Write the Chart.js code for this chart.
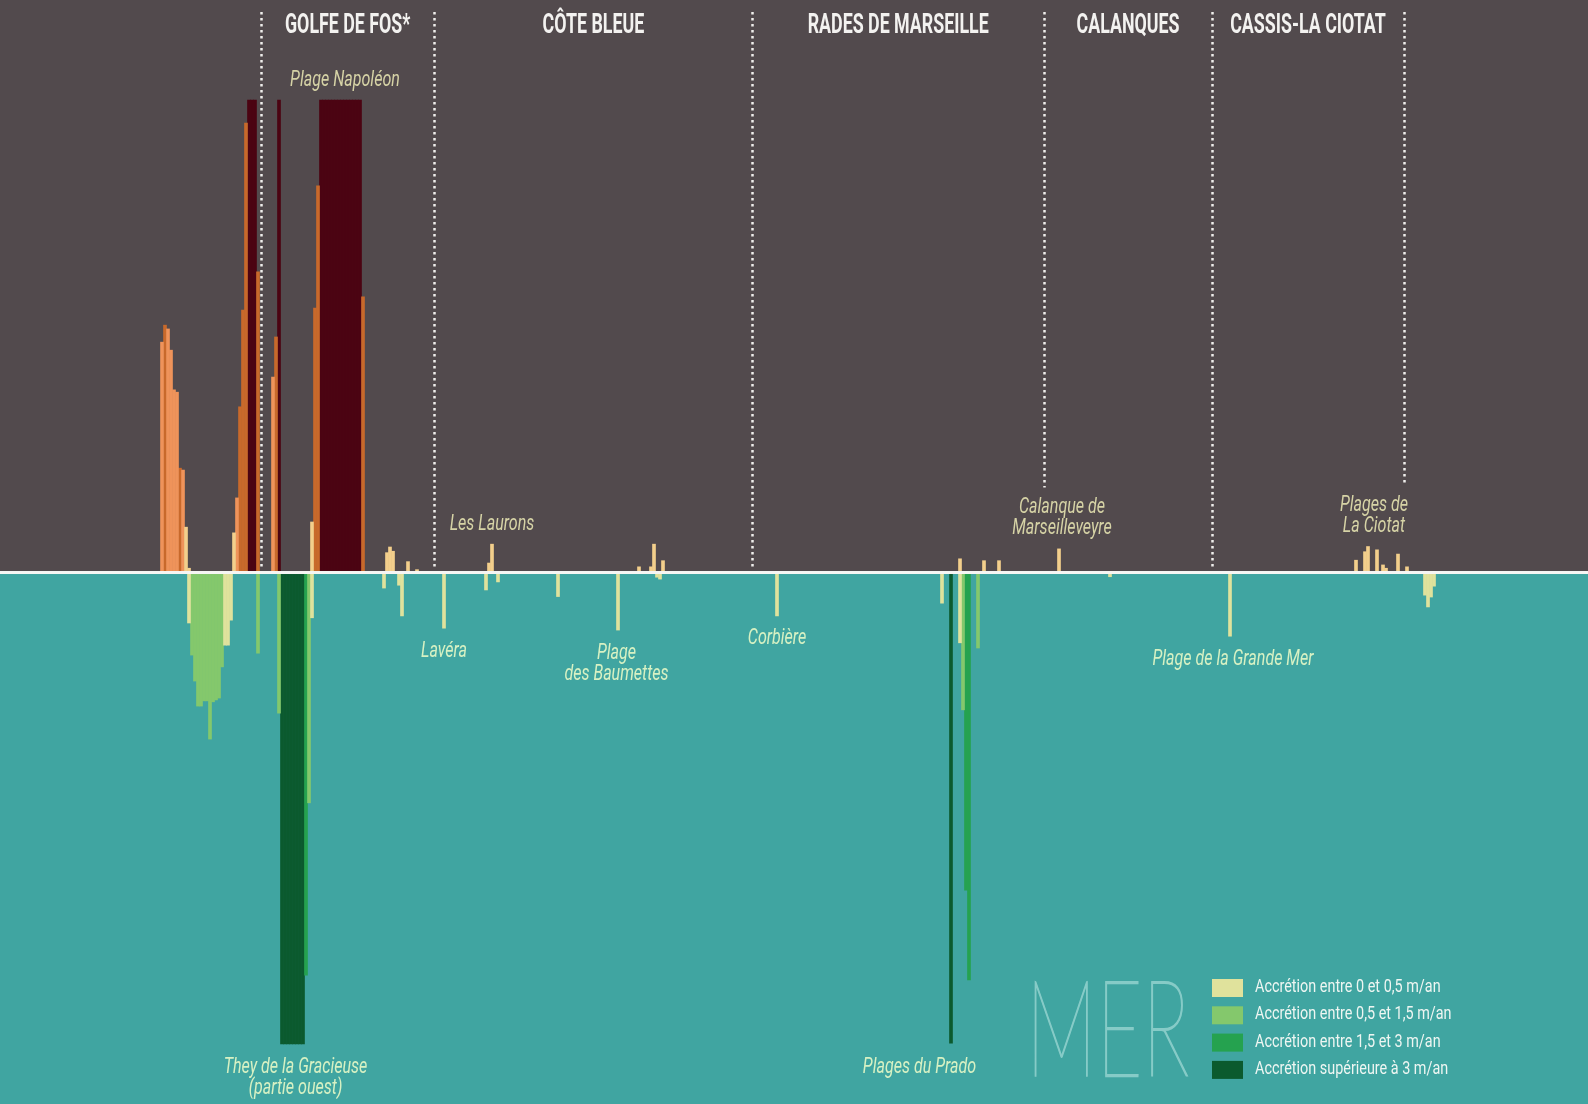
<!DOCTYPE html>
<html>
<head>
<meta charset="utf-8">
<script src="https://cdn.jsdelivr.net/npm/chart.js@4.4.1/dist/chart.umd.min.js"></script>
<style>
  html, body { margin: 0; padding: 0; background: #40a5a1; overflow: hidden; }
  canvas { display: block; }
</style>
</head>
<body>
<canvas id="chart" width="1588" height="1104"></canvas>
<script>
// transects along the coast, west -> east, [transect, relative rate] (100 = top of the scale)
const erosionLow = [[62, 9.5], [63, 0.8], [78, 8.3], [104, 10.6], [129, 4.1], [130, 5.3], [131, 4.4],
  [136, 2.2], [139, 0.5], [163, 1.9], [164, 5.9], [213, 1.1], [217, 1.1], [218, 5.9], [221, 2.4],
  [320, 2.8], [328, 2.4], [333, 2.4], [353, 4.9], [452, 2.5], [455, 4.3], [456, 5.4], [459, 4.7],
  [461, 1.5], [462, 0.8], [466, 3.8], [469, 1.1]];
const erosionMid = [[54, 48.7], [56, 51.5], [57, 47.0], [58, 38.6], [59, 38.1], [61, 21.6], [79, 15.7], [91, 41.3]];
const erosionHigh = [[55, 52.3], [60, 22.0], [80, 35.0], [81, 55.5], [82, 95.1], [86, 63.6], [92, 49.8],
  [105, 55.9], [106, 81.8], [121, 58.3]];
const erosionMax = [[83, 100], [84, 100], [85, 100], [93, 100], [107, 100], [108, 100], [109, 100],
  [110, 100], [111, 100], [112, 100], [113, 100], [114, 100], [115, 100], [116, 100], [117, 100],
  [118, 100], [119, 100], [120, 100]];

const accretionLow = [[63, -10.8], [75, -15.5], [76, -15.5], [77, -10.2], [104, -9.7], [128, -3.4],
  [133, -2.8], [134, -9.3], [148, -11.9], [162, -3.8], [166, -2.1], [186, -5.2], [206, -12.3],
  [219, -1.1], [220, -1.5], [259, -9.3], [314, -6.6], [320, -15.0], [370, -1.0], [410, -13.6],
  [475, -4.9], [476, -7.4], [477, -5.3], [478, -3.0]];
const accretionMid = [[64, -17.6], [65, -23.1], [66, -28.4], [67, -28.4], [68, -27.3], [69, -27.3],
  [70, -35.4], [71, -27.5], [72, -27.1], [73, -26.7], [74, -20.1], [86, -17.2], [93, -29.9],
  [103, -48.9], [321, -29.2], [326, -16.1]];
const accretionHigh = [[102, -85.4], [322, -67.4], [323, -86.4]];
const accretionMax = [[94, -100], [95, -100], [96, -100], [97, -100], [98, -100], [99, -100],
  [100, -100], [101, -100], [317, -99.8]];

const erosionLabels = ["Érosion entre 0 et 0,5 m/an", "Érosion entre 0,5 et 1,5 m/an",
  "Érosion entre 1,5 et 3 m/an", "Érosion supérieure à 3 m/an"];
const accretionLabels = ["Accrétion entre 0 et 0,5 m/an", "Accrétion entre 0,5 et 1,5 m/an",
  "Accrétion entre 1,5 et 3 m/an", "Accrétion supérieure à 3 m/an"];

const sectorBounds = [87, 144.8, 250.8, 348, 404, 468];
const sectorNames = ["GOLFE DE FOS*", "CÔTE BLEUE", "RADES DE MARSEILLE", "CALANQUES", "CASSIS-LA CIOTAT"];

const places = [
  { lines: ["Plage Napoléon"], at: 115, value: 100 },
  { lines: ["Les Laurons"], at: 164, value: 5.9 },
  { lines: ["Calanque de", "Marseilleveyre"], at: 354, value: 4.9 },
  { lines: ["Plages de", "La Ciotat"], at: 458, value: 5.4 },
  { lines: ["Lavéra"], at: 148, value: -11.9 },
  { lines: ["Plage", "des Baumettes"], at: 205.5, value: -12.3 },
  { lines: ["Corbière"], at: 259, value: -9.3 },
  { lines: ["Plage de la Grande Mer"], at: 411, value: -13.6 },
  { lines: ["They de la Gracieuse", "(partie ouest)"], at: 98.5, value: -100 },
  { lines: ["Plages du Prado"], at: 306.5, value: -100 },
];

const erosionColors = ["#f3cf8c", "#ef935a", "#c8692b", "#4b0312"];
const accretionColors = ["#e0e29c", "#84c86c", "#25a24f", "#0b5a2e"];

const toPoints = (arr) => arr.map(([x, y]) => ({ x, y }));

const series = [erosionLow, erosionMid, erosionHigh, erosionMax];
const seaSeries = [accretionLow, accretionMid, accretionHigh, accretionMax];

const datasets = [
  ...series.map((s, i) => ({ label: erosionLabels[i], data: toPoints(s), backgroundColor: erosionColors[i] })),
  ...seaSeries.map((s, i) => ({ label: accretionLabels[i], data: toPoints(s), backgroundColor: accretionColors[i], sea: true })),
];

function squeezed(ctx, text, x, y, font, sx, align, stroke) {
  ctx.save();
  ctx.font = font;
  ctx.textAlign = align || "center";
  ctx.translate(x, y);
  ctx.scale(sx, 1);
  ctx.fillText(text, 0, 0);
  if (stroke) {
    ctx.strokeStyle = ctx.fillStyle;
    ctx.lineWidth = stroke;
    ctx.strokeText(text, 0, 0);
  }
  ctx.restore();
}

const LABEL_FONT = "italic 22px Roboto";
const LABEL_SX = 0.73;
const LINE_H = 21.5;

const coastPlugin = {
  id: "coast",
  beforeDraw(chart) {
    const { ctx, width, height } = chart;
    const y0 = chart.scales.y.getPixelForValue(0);
    ctx.save();
    ctx.fillStyle = "#524a4d";
    ctx.fillRect(0, 0, width, y0);
    ctx.fillStyle = "#40a5a1";
    ctx.fillRect(0, y0, width, height - y0);
    ctx.restore();
  },
  afterDatasetsDraw(chart) {
    const { ctx, width } = chart;
    const x = chart.scales.x, y = chart.scales.y;
    const y0 = y.getPixelForValue(0);
    ctx.save();

    // place names, measured first so the sector lines can stop above them
    ctx.textBaseline = "middle";
    const boxes = [];
    places.forEach((p) => {
      const px = x.getPixelForValue(p.at);
      const py = y.getPixelForValue(p.value);
      const land = p.value > 0;
      ctx.fillStyle = land ? "#d6d3a6" : "#d7f1c3";
      ctx.font = LABEL_FONT;
      const w = Math.max(...p.lines.map((l) => ctx.measureText(l).width)) * LABEL_SX;
      let first = land ? py - 20 - (p.lines.length - 1) * LINE_H : py + 23;
      p.lines.forEach((l, i) => squeezed(ctx, l, px, first + i * LINE_H, LABEL_FONT, LABEL_SX));
      if (land) boxes.push({ left: px - w / 2, right: px + w / 2, top: first - 14 });
    });

    // sector separators
    ctx.strokeStyle = "#efeeec";
    ctx.lineWidth = 2.5;
    ctx.setLineDash([2.5, 3.5]);
    sectorBounds.forEach((b) => {
      const px = Math.round(x.getPixelForValue(b)) + 0.5;
      let bottom = y0 - 3;
      boxes.forEach((bx) => { if (px > bx.left && px < bx.right) bottom = Math.min(bottom, bx.top - 6); });
      ctx.beginPath();
      ctx.moveTo(px, 12);
      ctx.lineTo(px, bottom);
      ctx.stroke();
    });
    ctx.setLineDash([]);

    // sector names
    ctx.fillStyle = "#f3f2f0";
    ctx.textBaseline = "alphabetic";
    sectorNames.forEach((n, i) => {
      const px = x.getPixelForValue((sectorBounds[i] + sectorBounds[i + 1]) / 2);
      squeezed(ctx, n, px, 33, "bold 27px Roboto", 0.66);
    });

    // shoreline
    ctx.fillStyle = "#f6f6f4";
    ctx.fillRect(0, y0 - 1, width, 3);

    // sea legend
    chart.data.datasets.filter((d) => d.sea).forEach((d, i) => {
      const top = 979 + i * 27.3;
      ctx.fillStyle = d.backgroundColor;
      ctx.fillRect(1212, top, 31, 18);
      ctx.fillStyle = "#eef6f2";
      squeezed(ctx, d.label, 1255, top + 13, "18px Roboto", 0.8, "left");
    });

    ctx.fillStyle = "#86cbc7";
    squeezed(ctx, "MER", 1026, 1076, "200 134px Lato", 0.59, "left", 1.6);
    ctx.restore();
  },
};

new Chart(document.getElementById("chart").getContext("2d"), {
  type: "bar",
  data: { datasets },
  options: {
    responsive: false,
    animation: false,
    events: [],
    layout: { padding: 0 },
    grouped: false,
    barPercentage: 1,
    categoryPercentage: 1,
    borderWidth: 0,
    scales: {
      x: { type: "linear", min: 0, max: 1588 / 3, offset: false, display: false },
      y: { min: -112.71, max: 121.19, display: false },
    },
    plugins: { legend: { display: false }, tooltip: { enabled: false } },
  },
  plugins: [coastPlugin],
});
</script>
</body>
</html>
